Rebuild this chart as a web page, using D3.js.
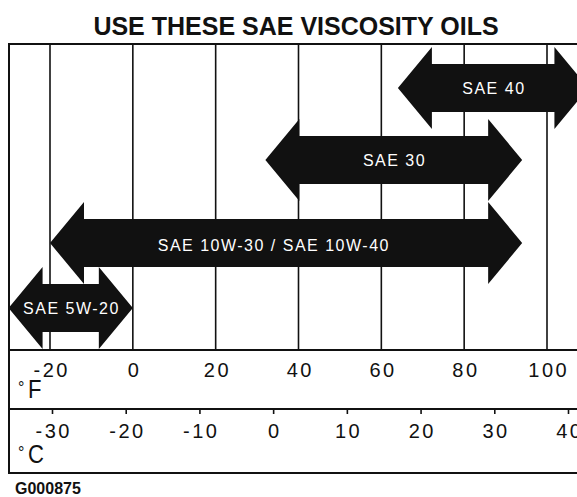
<!DOCTYPE html>
<html>
<head>
<meta charset="utf-8">
<script src="https://cdn.jsdelivr.net/npm/d3@7"></script>
<style>
  html, body { margin: 0; padding: 0; background: #fff; }
  svg { display: block; font-family: "Liberation Sans", Arial, Helvetica, sans-serif; }
</style>
</head>
<body>
<svg id="chart" width="577" height="497"></svg>
<script>
// Oil grades and the ambient temperature span (°F) each one covers
const grades = ["SAE 40", "SAE 30", "SAE 10W-30 / SAE 10W-40", "SAE 5W-20"];
const lowF  = [64, 32, -20, -30];
const highF = [110, 94, 94, 0];

// Temperature scale tick labels
const fTicks = [-20, 0, 20, 40, 60, 80, 100];
const cTicks = [-30, -20, -10, 0, 10, 20, 30, 40];

const title = "USE THESE SAE VISCOSITY OILS";
const figureId = "G000875";

const svg = d3.select("#chart");
const ink = "#111";

// Frame layout
const frame = { left: 9, top: 44, right: 600, fRow: 350, cRow: 409, bottom: 473 };

const xF = d3.scaleLinear().domain([-20, 100]).range([50, 547]);
const xC = d3.scaleLinear().domain([-30, 40]).range([52, 568]);
const yRow = d3.scaleOrdinal().domain(grades).range([88, 160, 243, 308]);

// The long multigrade label sits a little left of its arrow's middle
const labelNudge = { "SAE 10W-30 / SAE 10W-40": { dx: -13, dy: 2 } };

// Plain hyphen for negative values
const fmt = d => String(d);

// Title
svg.append("text")
  .attr("x", 296).attr("y", 35)
  .attr("text-anchor", "middle")
  .attr("font-size", 25).attr("font-weight", "bold")
  .attr("fill", ink)
  .text(title);

// Vertical grid lines at each °F tick
svg.append("g")
  .selectAll("line")
  .data(fTicks)
  .join("line")
  .attr("x1", d => xF(d)).attr("x2", d => xF(d))
  .attr("y1", frame.top).attr("y2", frame.fRow)
  .attr("stroke", ink).attr("stroke-width", 1.6);

// Double-headed arrows, one per grade
const head = 34, barb = 41, shaft = 24;
const arrows = grades.map((g, i) => ({ grade: g, lo: lowF[i], hi: highF[i] }));

function arrowPath(d) {
  const x0 = xF(d.lo), x1 = xF(d.hi), cy = yRow(d.grade);
  const p = d3.path();
  p.moveTo(x0, cy);
  p.lineTo(x0 + head, cy - barb);
  p.lineTo(x0 + head, cy - shaft);
  p.lineTo(x1 - head, cy - shaft);
  p.lineTo(x1 - head, cy - barb);
  p.lineTo(x1, cy);
  p.lineTo(x1 - head, cy + barb);
  p.lineTo(x1 - head, cy + shaft);
  p.lineTo(x0 + head, cy + shaft);
  p.lineTo(x0 + head, cy + barb);
  p.closePath();
  return p.toString();
}

const arrowG = svg.append("g");
arrowG.selectAll("path")
  .data(arrows)
  .join("path")
  .attr("d", arrowPath)
  .attr("fill", ink);

arrowG.selectAll("text")
  .data(arrows)
  .join("text")
  .attr("x", d => (xF(d.lo) + xF(d.hi)) / 2 + 0.75 + (labelNudge[d.grade] ? labelNudge[d.grade].dx : 0))
  .attr("y", d => yRow(d.grade) + 6 + (labelNudge[d.grade] ? labelNudge[d.grade].dy : 0))
  .attr("text-anchor", "middle")
  .attr("font-size", 16)
  .attr("letter-spacing", 1.5)
  .attr("fill", "#fff")
  .text(d => d.grade);

// Frame and row separators
const frameG = svg.append("g").attr("fill", "none").attr("stroke", ink).attr("stroke-width", 2);
frameG.append("rect")
  .attr("x", frame.left).attr("y", frame.top)
  .attr("width", frame.right - frame.left).attr("height", frame.bottom - frame.top);
frameG.append("line")
  .attr("x1", frame.left).attr("x2", frame.right)
  .attr("y1", frame.fRow).attr("y2", frame.fRow);
frameG.append("line")
  .attr("x1", frame.left).attr("x2", frame.right)
  .attr("y1", frame.cRow).attr("y2", frame.cRow);

function styleTickText(sel, y) {
  sel.attr("y", y).attr("dy", null).attr("dx", 1.25)
    .attr("font-size", 20).attr("letter-spacing", 2.5)
    .attr("font-family", "Liberation Sans, Arial, sans-serif")
    .attr("fill", ink);
}

// Fahrenheit axis
const axisF = svg.append("g")
  .attr("transform", `translate(0,${frame.fRow})`)
  .call(d3.axisBottom(xF).tickValues(fTicks).tickSize(0).tickFormat(fmt));
axisF.select(".domain").remove();
styleTickText(axisF.selectAll("text"), 27);

// Celsius axis
const axisC = svg.append("g")
  .attr("transform", `translate(0,${frame.cRow})`)
  .call(d3.axisBottom(xC).tickValues(cTicks).tickSize(5).tickFormat(fmt));
axisC.select(".domain").remove();
axisC.selectAll("line").attr("stroke", ink).attr("stroke-width", 1.6);
styleTickText(axisC.selectAll("text"), 29);

// Unit labels: small degree sign, tall letter
function unitLabel(letter, baseline) {
  svg.append("text")
    .attr("x", 18).attr("y", baseline - 5)
    .attr("font-size", 16).attr("fill", ink)
    .text("°");
  svg.append("text")
    .attr("x", 28).attr("y", baseline)
    .attr("font-size", 26).attr("fill", ink)
    .attr("transform", `translate(28,${baseline}) scale(0.85,1) translate(-28,${-baseline})`)
    .text(letter);
}
unitLabel("F", 398);
unitLabel("C", 463);

// Figure reference
svg.append("text")
  .attr("x", 15).attr("y", 494)
  .attr("font-size", 16).attr("font-weight", "bold")
  .attr("fill", ink)
  .text(figureId);
</script>
</body>
</html>
